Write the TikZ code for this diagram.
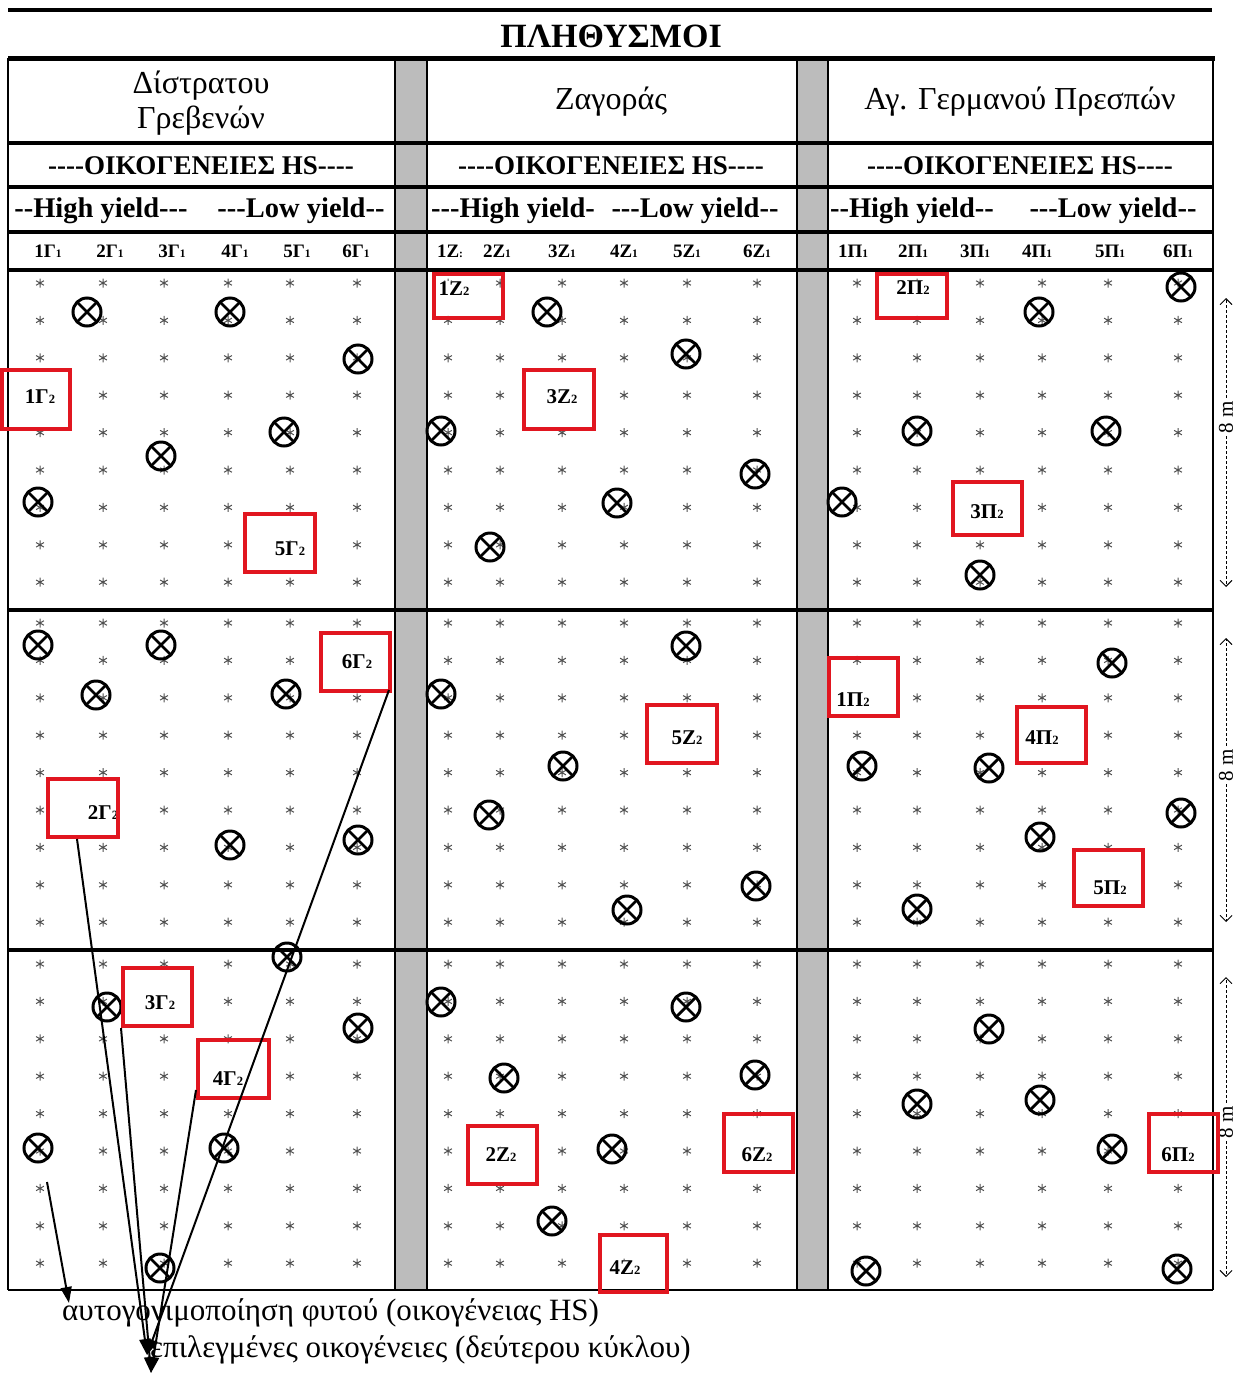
\documentclass[tikz,border=0pt]{standalone}
\usepackage{graphicx}
\usepackage{fontspec}
\setmainfont{Liberation Serif}
\usetikzlibrary{arrows.meta,calc}

\definecolor{boxred}{RGB}{225,22,32}
\definecolor{stripgray}{RGB}{188,188,188}
\definecolor{stargray}{RGB}{80,80,80}

% small inferior numeral used in family labels
\newcommand\lowsub[1]{\scalebox{0.6}{#1}}
\newcommand\fsz[1]{\fontsize{#1}{#1}\selectfont}
% red frame around a selected family, given by its outer corners
\newcommand\fambox[5]{\node[famframe,minimum width={#4-#2-4},minimum height={#5-#3-4}] (#1) at ({(#2+#4)/2},{(#3+#5)/2}) {};}

\tikzset{
  pics/seedling/.style={code={
    \draw[stargray,line width=1pt] (0,-4.5)--(0,4.5) (-3.9,-2.25)--(3.9,2.25) (-3.9,2.25)--(3.9,-2.25);}},
  pics/selfed/.style={code={
    \draw[line width=3pt] (0,0) circle (14);
    \draw[line width=2.8pt] (-9.9,-9.9)--(9.9,9.9) (-9.9,9.9)--(9.9,-9.9);}},
  heavyrule/.style={line width=4pt},
  midrule/.style={line width=3.4pt},
  thinrule/.style={line width=1.6pt},
  famframe/.style={draw=boxred,line width=4pt,inner sep=0pt},
  boxlab/.style={font=\fsz{21}\bfseries,inner sep=1.5pt,fill=white},
  collab/.style={font=\fsz{19}\bfseries,inner sep=0pt},
  yieldlab/.style={font=\fsz{28.5}\bfseries,inner sep=0pt},
  famhead/.style={font=\fsz{27}\bfseries,inner sep=0pt},
  sitehead/.style={font=\fontsize{32}{35}\selectfont,inner sep=0pt,align=center},
  meas/.style={font=\fsz{21},rotate=90,inner sep=3pt},
  dimline/.style={line width=0.9pt,dash pattern=on 3pt off 2pt,-{Straight Barb[length=6pt,width=12pt]}},
  pointer/.style={line width=2pt,-{Triangle[length=16pt,width=11pt]}},
  legend/.style={font=\fsz{31},inner sep=0pt,anchor=base west},
}

\begin{document}
\begin{tikzpicture}[x=1pt,y=-1pt]
\useasboundingbox (0,0) rectangle (1241,1374);

% grey separating strips between the three populations
\fill[stripgray] (395,58) rectangle (427,1290);
\fill[stripgray] (797,58) rectangle (828,1290);

% plants of the field plots
\foreach \yo in {283,623,964}
  \foreach \k in {0,...,8}
    \foreach \xx in {40,103,164,228,290,357,448,500,562,624,687,757,857,917,980,1042,1108,1178}
      \pic at (\xx,{\yo+37.4*\k}) {seedling};

% self-pollinated plants
\foreach \xx/\yy in {87/312,230/312,358/359,284/432,161/456,38/502,
                     547/312,686/354,441/431,755/474,617/503,490/547,
                     1181/287,1039/312,917/431,1106/431,842/502,980/575,
                     38/645,161/645,96/695,286/694,230/845,358/840,
                     686/646,441/694,563/766,489/815,756/886,627/910,
                     1112/663,862/766,989/768,1181/813,1040/837,917/909,
                     287/957,107/1007,358/1028,38/1148,224/1148,160/1268,
                     441/1002,686/1007,504/1078,755/1075,612/1149,552/1221,
                     989/1029,917/1104,1040/1100,1112/1149,866/1271,1177/1269}
  \pic at (\xx,\yy) {selfed};

% table rules
\draw[line width=4pt] (8,10) -- (1212,10);
\draw[line width=5pt] (8,58) -- (1215,58);
\foreach \yy in {143,270,610,950} \draw[heavyrule] (8,\yy) -- (1213,\yy);
\foreach \yy in {187,232} \draw[midrule] (8,\yy) -- (1213,\yy);
\draw[thinrule] (8,1290) -- (1213,1290);
\foreach \xx in {8,395,427,797,828,1213} \draw[thinrule] (\xx,58) -- (\xx,1290);

% headings
\node[font=\fsz{34}\bfseries,inner sep=0pt] (title) at (611,36) {ΠΛΗΘΥΣΜΟΙ};
\node[sitehead] (siteG) at (201,103) {Δίστρατου\\Γρεβενών};
\node[sitehead] (siteZ) at (611,102) {Ζαγοράς};
\node[sitehead] (siteP) at (1020,102) {Αγ. Γερμανού Πρεσπών};

\node[famhead] (famG) at (201,166) {-{}-{}-{}-ΟΙΚΟΓΕΝΕΙΕΣ HS-{}-{}-{}-};
\node[famhead] (famZ) at (611,166) {-{}-{}-{}-ΟΙΚΟΓΕΝΕΙΕΣ HS-{}-{}-{}-};
\node[famhead] (famP) at (1020,166) {-{}-{}-{}-ΟΙΚΟΓΕΝΕΙΕΣ HS-{}-{}-{}-};

\node[yieldlab] (hiG) at (101,211) {-{}-High yield-{}-{}-};
\node[yieldlab] (loG) at (301,211) {-{}-{}-Low yield-{}-};
\node[yieldlab] (hiZ) at (513,211) {-{}-{}-High yield-};
\node[yieldlab] (loZ) at (695,211) {-{}-{}-Low yield-{}-};
\node[yieldlab] (hiP) at (912,211) {-{}-High yield-{}-};
\node[yieldlab] (loP) at (1113,211) {-{}-{}-Low yield-{}-};

\foreach \n/\xx in {1/48,2/110,3/172,4/235,5/297,6/356}
  \node[collab] (cG\n) at (\xx,251) {\n Γ\lowsub{1}};
\node[collab] (cZ1) at (450,251) {1Z\lowsub{:}};
\foreach \n/\xx in {2/497,3/562,4/624,5/687,6/757}
  \node[collab] (cZ\n) at (\xx,251) {\n Z\lowsub{1}};
\foreach \n/\xx in {1/853,2/913,3/975,4/1037,5/1110,6/1178}
  \node[collab] (cP\n) at (\xx,251) {\n Π\lowsub{1}};

% plot length markers
\foreach \i/\ya/\ym/\yb in {1/298/417/587,2/638/765/922,3/977/1122/1277} {
  \node[meas] (span\i) at (1226,\ym) {8 m};
  \coordinate (spanTop\i) at (1226,\ya);
  \coordinate (spanBot\i) at (1226,\yb);
  \draw[dimline] (span\i) -- (spanTop\i);
  \draw[dimline] (span\i) -- (spanBot\i);
}

% names of the families selected for the second cycle
\node[boxlab] (l1G) at (40,397) {1Γ\lowsub{2}};
\node[boxlab] (l5G) at (290,549) {5Γ\lowsub{2}};
\node[boxlab] (l1Z) at (454,289) {1Z\lowsub{2}};
\node[boxlab] (l3Z) at (562,397) {3Z\lowsub{2}};
\node[boxlab] (l2P) at (913,288) {2Π\lowsub{2}};
\node[boxlab] (l3P) at (987,512) {3Π\lowsub{2}};
\node[boxlab] (l6G) at (357,662) {6Γ\lowsub{2}};
\node[boxlab] (l2G) at (103,813) {2Γ\lowsub{2}};
\node[boxlab] (l5Z) at (687,738) {5Z\lowsub{2}};
\node[boxlab] (l1P) at (853,700) {1Π\lowsub{2}};
\node[boxlab] (l4P) at (1042,738) {4Π\lowsub{2}};
\node[boxlab] (l5P) at (1110,888) {5Π\lowsub{2}};
\node[boxlab] (l3G) at (160,1003) {3Γ\lowsub{2}};
\node[boxlab] (l4G) at (228,1079) {4Γ\lowsub{2}};
\node[boxlab] (l6Z) at (757,1155) {6Z\lowsub{2}};
\node[boxlab] (l2Z) at (501,1155) {2Z\lowsub{2}};
\node[boxlab] (l4Z) at (625,1268) {4Z\lowsub{2}};
\node[boxlab] (l6P) at (1178,1155) {6Π\lowsub{2}};

% red frames of the selected families
\fambox{b1G}{0}{368}{72}{431}
\fambox{b5G}{243}{512}{317}{574}
\fambox{b1Z}{432}{272}{505}{320}
\fambox{b3Z}{522}{368}{596}{431}
\fambox{b2P}{875}{272}{949}{320}
\fambox{b3P}{951}{480}{1024}{537}
\fambox{b6G}{319}{631}{392}{693}
\fambox{b2G}{46}{777}{120}{839}
\fambox{b5Z}{645}{703}{719}{765}
\fambox{b1P}{827}{656}{900}{718}
\fambox{b4P}{1015}{705}{1088}{765}
\fambox{b5P}{1072}{848}{1145}{908}
\fambox{b3G}{121}{966}{194}{1028}
\fambox{b4G}{196}{1038}{271}{1100}
\fambox{b6Z}{722}{1112}{795}{1174}
\fambox{b2Z}{466}{1124}{539}{1186}
\fambox{b4Z}{598}{1233}{669}{1294}
\fambox{b6P}{1147}{1112}{1220}{1174}

% legend
\node[legend] (legSelf) at (62,1320) {αυτογονιμοποίηση φυτού (οικογένειας HS)};
\node[legend] (legSel) at (150,1357) {επιλεγμένες οικογένειες (δεύτερου κύκλου)};

% legend pointers
\coordinate (selfStart) at (47,1182);
\coordinate (selfTip) at (69,1303);
\coordinate (tipHi) at (147,1355);
\coordinate (tipLo) at (151,1373);
\draw[pointer] (selfStart) -- (selfTip);
\draw[pointer] ($(b2G.south)+(-6,0)$) -- (tipHi);
\draw[pointer] ($(b6G.south east)+(-3,-3)$) -- (tipHi);
\draw[pointer] (b3G.south west) -- (tipLo);
\draw[pointer] ($(b4G.south west)+(0,-10)$) -- (tipLo);
\end{tikzpicture}
\end{document}
